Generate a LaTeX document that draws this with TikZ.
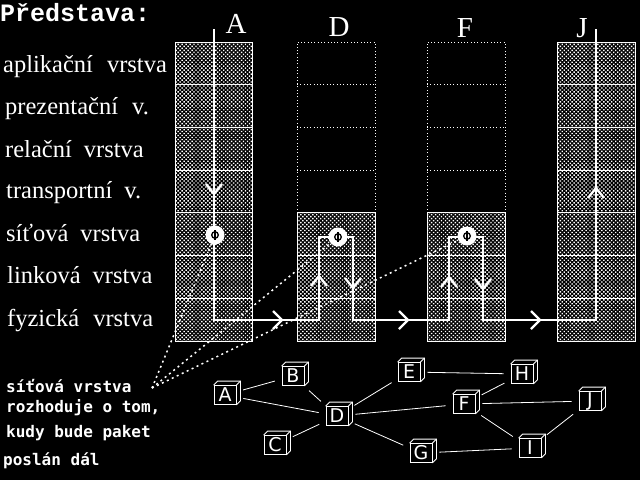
\documentclass[tikz,border=0pt]{standalone}
\usepackage{fontspec}
\setmainfont{Liberation Serif}
\newfontfamily\titlefont{Liberation Mono}
\newfontfamily\notefont{DejaVu Sans Mono}
\newfontfamily\boxfont{DejaVu Sans}
\usetikzlibrary{patterns.meta}
\begin{document}
\begin{tikzpicture}[x=1pt,y=-1pt,
  every node/.append style={text=white},
  stackfill/.style={pattern={Dots[distance=2.8pt,radius=1pt,angle=45]},pattern color=white},
  frame/.style={draw=white,line width=1pt},
  rowline/.style={white,line width=1pt},
  dotline/.style={white,line width=1pt,dash pattern=on 1pt off 2.3pt},
  pointer/.style={white,line width=1.5pt,dash pattern=on 2pt off 3.5pt},
  route/.style={white,line width=2.6pt,line join=miter},
  chevline/.style={white,line width=2.3pt},
  chevR/.pic={\draw[chevline] (-9,-9) -- (0,0) -- (-9,9);},
  chevD/.pic={\draw[chevline] (-8,-10) -- (0,0) -- (8,-10);},
  chevU/.pic={\draw[chevline] (-8,10) -- (0,0) -- (8,10);},
  layer/.style={anchor=base west,inner sep=0,font=\fontsize{24.5}{24}\selectfont},
  stacklabel/.style={anchor=base,inner sep=0,font=\fontsize{29}{29}\selectfont},
  note/.style={anchor=base west,inner sep=0,font=\notefont\bfseries\fontsize{16}{16}\selectfont},
  hub/.style={circle,fill=white,minimum size=19pt,inner sep=0},
  cube/.style={draw=white,line width=0.8pt,minimum width=22pt,minimum height=19pt,inner sep=0,font=\boxfont\fontsize{19}{19}\selectfont},
  edge/.style={white,line width=0.8pt,shorten <=7pt,shorten >=7pt}
]
\fill[black] (0,0) rectangle (640,480);
\useasboundingbox (0,0) rectangle (640,480);

% title
\node[anchor=base west,inner sep=0,font=\titlefont\bfseries\fontsize{25}{25}\selectfont] (title) at (0,21) {Představa:};

% layer names
\node[layer] (l1) at (3,72) {aplikační\hspace{14pt}vrstva};
\node[layer] (l2) at (5,114) {prezentační\hspace{14pt}v.};
\node[layer] (l3) at (5,157) {relační\hspace{12pt}vrstva};
\node[layer] (l4) at (6,198) {transportní\hspace{12pt}v.};
\node[layer] (l5) at (6,241) {síťová\hspace{12pt}vrstva};
\node[layer] (l6) at (7,283) {linková\hspace{12pt}vrstva};
\node[layer] (l7) at (7,326) {fyzická\hspace{14pt}vrstva};

% stack A
\fill[stackfill] (175,42) rectangle (252,341);
\draw[frame] (175,42) rectangle (252,341);
\foreach \y in {84.7,127.4,170.1,212.8,255.5,298.2} \draw[rowline] (175,\y) -- (252,\y);
% stack J
\fill[stackfill] (557,42) rectangle (635,341);
\draw[frame] (557,42) rectangle (635,341);
\foreach \y in {84.7,127.4,170.1,212.8,255.5,298.2} \draw[rowline] (557,\y) -- (635,\y);
% stacks D and F
\foreach \xa/\xb in {297/375,427/505}{
  \fill[stackfill] (\xa,212.8) rectangle (\xb,341);
  \draw[frame] (\xa,212.8) rectangle (\xb,341);
  \foreach \y in {255.5,298.2} \draw[rowline] (\xa,\y) -- (\xb,\y);
  \draw[dotline] (\xa,212.8) -- (\xa,42) -- (\xb,42) -- (\xb,212.8);
  \foreach \y in {84.7,127.4,170.1} \draw[dotline] (\xa,\y) -- (\xb,\y);
}

% stack labels
\node[stacklabel] (sA) at (236,33) {A};
\node[stacklabel] (sD) at (339,36) {D};
\node[stacklabel] (sF) at (465,37) {F};
\node[stacklabel] (sJ) at (582,37) {J};

% route
\coordinate (p0) at (214,29);
\coordinate (p1) at (214,320);
\coordinate (p2) at (319,320);
\coordinate (p3) at (319,237);
\coordinate (p4) at (353,237);
\coordinate (p5) at (353,320);
\coordinate (p6) at (449,320);
\coordinate (p7) at (449,237);
\coordinate (p8) at (483,237);
\coordinate (p9) at (483,320);
\coordinate (p10) at (596,320);
\coordinate (p11) at (596,29);
\draw[route] (p0) -- (p1) -- (p2) -- (p3) -- (p4) -- (p5) -- (p6) -- (p7) -- (p8) -- (p9) -- (p10) -- (p11);

\pic at (214,194) {chevD};
\pic at (319,276) {chevU};
\pic at (353,288) {chevD};
\pic at (449,277) {chevU};
\pic at (483,289) {chevD};
\pic at (596,188) {chevU};
\pic at (282,320) {chevR};
\pic at (408,320) {chevR};
\pic at (540,320) {chevR};

% hubs (network layer)
\node[hub] (cA) at (215,235) {};
\node[hub] (cD) at (338,237) {};
\node[hub] (cF) at (467,236) {};
\foreach \c in {cA,cD,cF}{
  \draw[black,line width=1.3pt] (\c) circle[radius=3.3];
  \draw[black,line width=1.3pt] ([yshift=5pt]\c.center) -- ([yshift=-5pt]\c.center);
}

% note
\node[note] (n1) at (6,392) {síťová vrstva};
\node[note] (n2) at (6,412) {rozhoduje o tom,};
\node[note] (n3) at (6,437) {kudy bude paket};
\node[note] (n4) at (3,465) {poslán dál};
\coordinate (src) at (152,388);
\draw[pointer] (src) -- (cA);
\draw[pointer] (src) -- (cD);
\draw[pointer] (src) -- (cF);

% network
\node[cube] (nA) at (225,395) {A};
\node[cube] (nB) at (293,376) {B};
\node[cube] (nC) at (275,445) {C};
\node[cube] (nD) at (337,416) {D};
\node[cube] (nE) at (409,372) {E};
\node[cube] (nH) at (522,374) {H};
\node[cube] (nF) at (464,404) {F};
\node[cube] (nJ) at (590,401) {J};
\node[cube] (nG) at (421,453) {G};
\node[cube] (nI) at (530,448) {I};
\foreach \n in {nA,nB,nC,nD,nE,nH,nF,nJ,nG,nI}{
  \draw[white,line width=0.8pt] (\n.north west) -- ++(4,-4) -- ([shift={(4,-4)}]\n.north east) -- ([shift={(4,-4)}]\n.south east) -- (\n.south east);
  \draw[white,line width=0.8pt] (\n.north east) -- ++(4,-4);
}
\draw[edge] (nA) -- (nB);
\draw[edge] (nA) -- (nD);
\draw[edge] (nB) -- (nD);
\draw[edge] (nC) -- (nD);
\draw[edge] (nD) -- (nE);
\draw[edge] (nD) -- (nF);
\draw[edge] (nD) -- (nG);
\draw[edge] (nE) -- (nH);
\draw[edge] (nF) -- (nH);
\draw[edge] (nF) -- (nJ);
\draw[edge] (nF) -- (nI);
\draw[edge] (nG) -- (nI);
\draw[edge] (nI) -- (nJ);
\end{tikzpicture}
\end{document}
